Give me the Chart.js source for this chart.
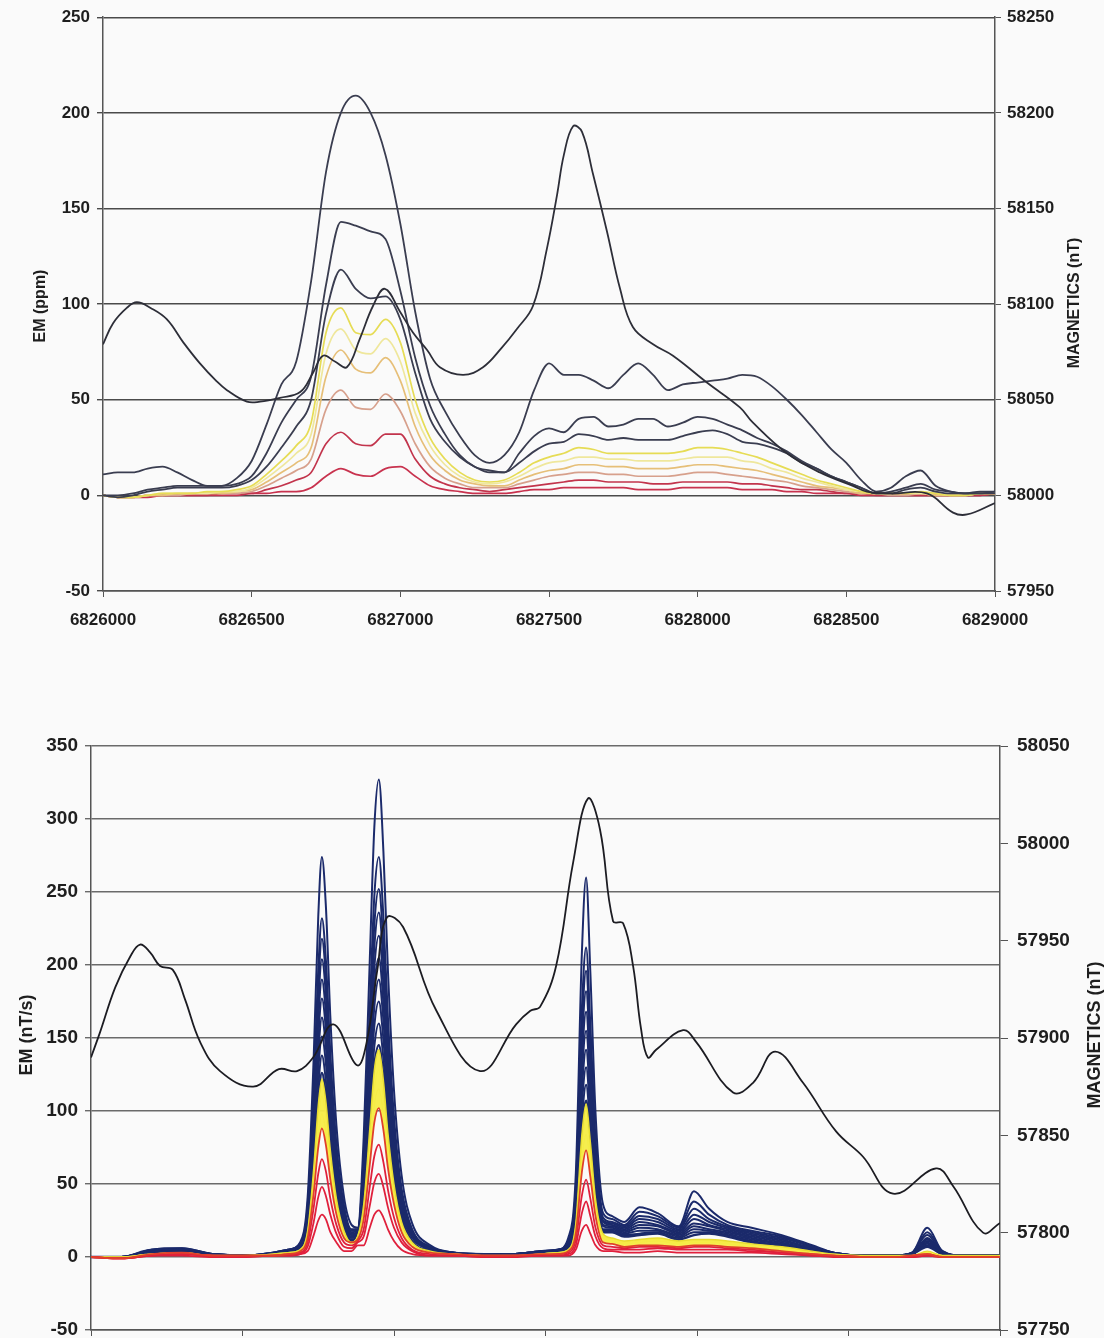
<!DOCTYPE html>
<html>
<head>
<meta charset="utf-8">
<script src="https://cdn.jsdelivr.net/npm/chart.js@4.4.1/dist/chart.umd.min.js"></script>
<style>
  html, body { margin: 0; padding: 0; background: #fafafa; }
  #page { position: relative; width: 1104px; height: 1338px; overflow: hidden; background: #fafafa; }
  #topChart { position: absolute; left: 0; top: 0; }
  #botChart { position: absolute; left: 0; top: 700px; }
</style>
</head>
<body>
<div id="page">
  <canvas id="topChart" width="1104" height="650"></canvas>
  <canvas id="botChart" width="1104" height="700"></canvas>
</div>
<script>
// ---------- top profile: EM (ppm), one reading every 50 m ----------
const topX = [6826000,6826050,6826100,6826150,6826200,6826250,6826300,6826350,6826400,6826450,
  6826500,6826550,6826600,6826650,6826700,6826750,6826800,6826850,6826900,6826950,
  6827000,6827050,6827100,6827150,6827200,6827250,6827300,6827350,6827400,6827450,
  6827500,6827550,6827600,6827650,6827700,6827750,6827800,6827850,6827900,6827950,
  6828000,6828050,6828100,6828150,6828200,6828250,6828300,6828350,6828400,6828450,
  6828500,6828550,6828600,6828650,6828700,6828750,6828800,6828850,6828900,6828950,
  6829000];
const ch1 = [11,12,12,14,15,12,8,5,5,9, 18,37,58,70,112,169,200,209,200,178,
  142,96,61,44,31,21,17,21,33,55, 69,63,63,60,56,63,69,63,55,58,
  59,60,61,63,62,57,50,42,33,24, 17,8,2,4,10,13,5,2,1,1, 1];
const ch2 = [0,0,1,3,4,5,5,5,5,6, 10,22,38,50,62,110,143,141,138,134,
  107,72,47,32,21,15,13,12,22,31, 35,33,40,41,36,37,40,40,36,38,
  41,40,37,34,30,27,23,18,14,10, 7,4,1,2,4,6,3,2,1,2, 2];
const ch3 = [0,-1,0,2,3,4,4,4,4,5, 8,15,25,36,50,95,118,108,103,104,
  92,64,40,28,20,15,12,12,17,23, 27,28,32,31,29,30,29,29,29,31,
  33,34,32,28,27,25,22,17,14,10, 7,4,1,1,3,4,2,1,1,1, 2];
const ch4 = [0,-1,-1,0,1,1,1,2,2,3, 5,11,18,26,38,85,98,85,84,92,
  80,50,30,19,12,8,7,8,12,17, 20,22,25,24,22,22,22,22,22,23,
  25,25,24,22,20,17,14,11,8,6, 4,2,1,1,1,2,1,0,0,1, 1];
const ch5 = [0,-1,-1,0,1,1,1,1,2,2, 4,9,15,22,32,74,87,76,74,82,
  70,43,26,16,10,7,6,7,10,14, 17,18,20,20,19,19,18,18,18,19,
  20,20,20,18,17,14,12,9,7,5, 3,2,1,1,1,1,1,0,0,1, 1];
const ch6 = [0,-1,-1,0,0,1,1,1,1,2, 3,7,12,17,25,62,76,66,64,72,
  60,36,21,13,8,6,5,5,8,11, 13,14,16,16,15,15,14,14,14,15,
  16,16,15,14,13,11,9,7,5,4, 3,1,1,1,1,1,0,0,0,1, 1];
const ch7 = [0,-1,-1,0,0,0,1,1,1,1, 2,5,9,13,19,45,55,46,45,53,
  44,27,15,9,6,4,4,4,6,8, 10,11,12,12,11,11,10,10,10,11,
  12,12,11,10,9,8,7,5,4,3, 2,1,1,0,0,1,0,0,0,1, 1];
const ch8 = [0,-1,-1,0,0,0,0,0,1,1, 1,3,5,8,12,27,33,27,26,32,
  32,19,10,6,4,3,2,3,4,5, 6,7,8,8,7,7,7,6,6,7,
  7,7,7,6,6,5,4,3,3,2, 1,1,0,0,0,0,0,0,0,0, 1];
const ch9 = [0,-1,-1,-1,0,0,0,0,0,0, 1,1,2,2,4,10,14,11,10,14,
  15,10,5,3,2,1,1,1,2,3, 3,4,4,4,4,4,3,3,3,4,
  4,4,4,3,3,3,2,2,1,1, 1,0,0,0,0,0,0,0,0,0, 1];
// top magnetics (nT)
const magTopX = [6826000,6826034,6826080,6826114,6826160,6826215,6826270,6826326,6826380,6826417,
  6826484,6826528,6826595,6826663,6826706,6826740,6826780,6826820,6826864,6826908,
  6826948,6826999,6827043,6827090,6827133,6827211,6827278,6827340,6827392,6827446,
  6827493,6827527,6827550,6827581,6827611,6827648,6827695,6827739,6827782,6827850,
  6827917,6828031,6828142,6828186,6828300,6828411,6828522,6828569,6828650,6828771,
  6828859,6828906,6829000];
const magTopY = [58079,58090,58098,58101,58098,58092,58080,58069,58060,58055,
  58049,58049,58051,58054,58064,58073,58070,58067,58082,58099,
  58108,58096,58085,58076,58067,58063,58067,58077,58087,58099,
  58129,58157,58178,58193,58190,58168,58138,58108,58088,58079,
  58073,58059,58046,58038,58022,58012,58005,58002,58001,58001,
  57991,57990,57996];

// ---------- bottom profile: EM (nT/s), denser readings on the peaks ----------
const botX = [6826000,6826100,6826200,6826300,6826400,6826500,6826600,6826650,6826690,
  6826715,6826735,6826750,6826762,6826775,6826790,6826810,6826835,6826860,
  6826880,
  6826900,6826920,6826935,6826950,6826965,6826980,6827000,6827025,6827060,6827120,
  6827200,6827300,6827400,6827480,6827540,
  6827575,6827600,6827620,6827634,6827648,6827665,6827690,
  6827720,6827760,6827810,6827870,6827940,6827990,6828040,6828100,6828180,6828280,6828380,6828450,6828550,6828650,6828710,6828760,6828810,6828880,6829000];
const b1 = [0,0,5,6,2,1,3,5,10, 41,137,233,274,241,164,90,41,22, 20,
  82,203,294,327,278,196,114,56,23,8, 3,2,2,4,5, 13,57,208,260,195,99,36,
  28,24,34,30,21,45,33,24,20,15,8,3,1,1,3,20,4,1,1];
const b2 = [0,0,5,6,2,1,3,5,9, 35,116,197,232,204,139,77,35,19, 19,
  69,170,247,274,233,164,96,47,19,7, 3,2,2,4,5, 11,47,170,212,159,81,30,
  26,22,31,28,20,38,29,22,18,14,7,3,1,1,3,17,4,1,1];
const b3 = [0,0,5,5,2,1,3,5,9, 33,109,185,218,192,131,72,33,18, 18,
  63,156,227,252,214,151,88,43,18,6, 3,2,2,4,5, 10,43,157,196,147,74,27,
  24,21,28,26,19,33,26,21,17,13,7,3,1,1,3,15,3,1,1];
const b4 = [0,0,4,5,2,1,2,4,8, 31,102,173,204,180,122,67,31,17, 18,
  59,146,212,236,201,142,83,40,17,6, 3,2,2,3,4, 9,40,146,182,137,69,25,
  23,20,26,24,18,29,24,20,16,12,6,3,1,1,2,13,3,1,1];
const b5 = [0,0,4,5,2,1,2,4,8, 29,95,162,190,167,114,63,29,16, 17,
  55,136,198,220,187,132,77,37,16,6, 2,1,2,3,4, 8,37,134,168,126,64,24,
  22,19,24,22,17,26,22,19,15,11,6,3,1,1,2,12,3,1,1];
const b6 = [0,0,4,4,2,1,2,4,7, 27,89,150,177,156,106,58,27,15, 17,
  51,127,185,205,174,123,72,35,15,5, 2,1,2,3,4, 8,34,124,155,116,59,22,
  21,18,22,21,16,23,21,18,14,10,5,2,1,1,2,11,3,1,1];
const b7 = [0,0,3,4,2,1,2,3,7, 25,82,139,164,144,98,54,25,14, 16,
  48,118,171,190,162,114,67,32,14,5, 2,1,2,3,4, 7,31,114,142,107,54,21,
  20,17,20,19,15,21,19,17,13,9,5,2,1,1,2,10,2,1,1];
const b8 = [0,0,3,4,1,1,2,3,6, 23,76,128,151,133,91,50,23,13, 16,
  44,109,158,175,149,105,61,30,13,5, 2,1,2,3,4, 7,29,104,130,98,49,19,
  19,16,18,18,14,19,18,16,12,9,5,2,1,1,2,9,2,1,1];
const b9 = [0,0,3,3,1,1,2,3,6, 21,69,117,138,121,83,46,21,12, 15,
  40,99,144,160,136,96,56,27,11,4, 2,1,2,3,4, 6,26,94,118,89,45,18,
  18,15,16,17,13,17,17,15,11,8,4,2,1,1,2,8,2,1,1];
const b10 = [0,0,3,3,1,1,2,3,6, 19,63,107,126,111,76,42,19,11, 15,
  36,90,131,145,123,87,51,25,10,4, 2,1,2,3,4, 6,24,86,107,80,41,17,
  17,14,15,16,12,15,16,14,10,8,4,2,1,1,2,7,2,1,1];
const y1 = [0,0,2,3,1,1,2,3,5, 18,61,104,122,107,73,40,18,10, 14,
  36,88,128,142,121,85,50,24,10,4, 2,1,1,2,3, 5,23,84,105,79,40,16,
  13,11,12,13,11,12,12,11,9,7,4,2,1,1,1,4,1,1,1];
const y2 = [0,0,2,3,1,1,2,3,5, 17,55,94,110,97,66,36,17,9, 14,
  32,79,115,128,109,77,45,22,9,3, 2,1,1,2,3, 5,21,76,95,71,36,15,
  12,10,11,12,10,11,11,10,8,6,3,2,1,1,1,3,1,1,1];
const y3 = [0,0,2,2,1,1,1,2,4, 15,49,83,98,86,59,32,15,10, 14,
  29,71,104,115,98,69,40,20,8,3, 2,1,1,2,3, 4,18,67,84,63,32,13,
  11,9,10,11,9,10,10,9,7,5,3,1,1,1,1,3,1,1,1];
const r1 = [0,-1,2,3,1,1,1,2,4, 13,44,75,88,77,53,29,13,10, 12,
  26,63,92,102,87,61,36,17,7,3, 2,1,1,2,2, 4,16,58,73,55,28,10,
  9,7,8,8,7,8,8,7,6,4,2,1,0,0,1,2,0,0,0];
const r2 = [0,-1,1,2,1,1,1,2,3, 10,34,57,67,59,40,22,10,8, 11,
  19,48,69,77,65,46,27,13,5,2, 1,1,1,1,2, 3,12,42,53,40,20,8,
  7,6,7,7,6,7,7,6,5,3,2,1,0,0,1,2,0,0,0];
const r3 = [0,-1,1,2,1,0,1,1,2, 7,24,41,48,42,29,16,7,6, 10,
  14,35,51,57,48,34,20,10,4,1, 1,0,1,1,1, 2,8,30,38,28,14,6,
  5,5,5,6,5,5,5,5,4,3,1,1,0,0,0,1,0,0,0];
const r4 = [0,-1,1,1,0,0,1,1,2, 4,15,25,29,26,17,10,4,4, 8,
  8,20,29,32,27,19,11,5,2,1, 1,0,0,1,1, 1,5,18,22,16,8,4,
  4,3,3,4,3,3,3,3,3,2,1,0,0,0,0,1,0,0,0];
// bottom magnetics (nT)
const magBotX = [6826000,6826030,6826080,6826130,6826162,6826195,6826228,6826270,6826310,6826360,
  6826426,6826535,6826620,6826680,6826733,6826800,6826878,6826910,6826945,6826977,
  6827030,6827140,6827284,6827403,6827450,6827482,6827535,6827591,6827640,6827680,
  6827723,6827756,6827789,6827815,6827838,6827865,6827954,6827997,6828119,6828185,
  6828258,6828350,6828459,6828548,6828647,6828789,6828845,6828944,6829000];
const magBotY = [57890,57903,57926,57942,57948,57944,57937,57935,57920,57898,
  57883,57875,57884,57883,57890,57907,57886,57898,57935,57962,
  57957,57914,57883,57907,57914,57916,57937,57990,58023,58007,
  57960,57959,57937,57905,57890,57894,57904,57898,57872,57877,
  57893,57877,57852,57839,57820,57833,57824,57800,57805];

const TXT = '#1e1e1e';
const pts = (xs, ys) => ys.map((y, i) => ({ x: xs[i], y: y }));
function line(xs, ys, color, width, extra) {
  return Object.assign({
    data: pts(xs, ys), borderColor: color, borderWidth: width,
    pointRadius: 0, fill: false, cubicInterpolationMode: 'monotone'
  }, extra || {});
}
const asText = v => String(v);

// rotated axis titles, both read bottom to top
function titles(font, items) {
  return {
    id: 'axisTitles',
    afterDraw(chart) {
      const ctx = chart.ctx;
      ctx.save();
      ctx.fillStyle = TXT;
      ctx.font = font;
      ctx.textAlign = 'center';
      ctx.textBaseline = 'middle';
      items.forEach(t => {
        ctx.save();
        ctx.translate(t.x, t.y);
        ctx.rotate(-Math.PI / 2);
        ctx.fillText(t.text, 0, 0);
        ctx.restore();
      });
      ctx.restore();
    }
  };
}

function scales(o) {
  const font = { family: "'Liberation Sans', Arial, sans-serif", weight: 'bold', size: o.fontSize };
  return {
    x: {
      type: 'linear', min: 6826000, max: 6829000,
      ticks: { stepSize: 500, callback: asText, color: TXT, font: font, padding: 13, maxRotation: 0, autoSkip: false },
      grid: { drawOnChartArea: false, tickLength: 6, color: '#555' },
      border: { color: '#555', width: 1.5 },
      afterFit: s => { s.height = o.xHeight; }
    },
    y: {
      position: 'left', min: o.yMin, max: o.yMax,
      ticks: { stepSize: 50, callback: asText, color: TXT, font: font, padding: 7 },
      grid: { color: o.gridColor, lineWidth: 1.4, tickLength: 6 },
      border: { color: '#555', width: 1.5 },
      afterFit: s => { s.width = o.leftW; }
    },
    y2: {
      position: 'right', min: o.rMin, max: o.rMax,
      ticks: { stepSize: 50, callback: asText, color: TXT, font: font, padding: o.rPad },
      grid: { drawOnChartArea: false, tickLength: o.rTick, color: '#555' },
      border: { color: '#555', width: 1.5 },
      afterFit: s => { s.width = o.rightW; }
    }
  };
}

const common = {
  responsive: false, animation: false, events: [],
  plugins: { legend: { display: false }, tooltip: { enabled: false } }
};

// ---------- top chart ----------
const dark = '#3a3d50';
new Chart(document.getElementById('topChart'), {
  type: 'line',
  data: {
    datasets: [
      line(magTopX, magTopY, '#2d2e38', 1.8, { yAxisID: 'y2', tension: 0.4, cubicInterpolationMode: 'default' }),
      line(topX, ch1, dark, 1.8),
      line(topX, ch2, dark, 1.8),
      line(topX, ch3, dark, 1.8),
      line(topX, ch4, '#e6dc55', 1.7),
      line(topX, ch5, '#efe79c', 1.7),
      line(topX, ch6, '#e6bf78', 1.7),
      line(topX, ch7, '#d7a08c', 1.7),
      line(topX, ch8, '#c2344c', 1.7),
      line(topX, ch9, '#c8324e', 1.7)
    ]
  },
  options: Object.assign({}, common, {
    layout: { padding: { top: 17, left: 0, right: 0, bottom: 0 } },
    scales: scales({ fontSize: 17, xHeight: 59, yMin: -50, yMax: 250, leftW: 103,
      rMin: 57950, rMax: 58250, rightW: 109, rPad: 6, rTick: 6, gridColor: '#4a4a4a' })
  }),
  plugins: [titles("bold 16px 'Liberation Sans', Arial, sans-serif", [
    { text: 'EM (ppm)', x: 41, y: 306 },
    { text: 'MAGNETICS (nT)', x: 1075, y: 303 }
  ])]
});

// ---------- bottom chart ----------
const navy = '#1b2a6b';
const red = '#e0203c';
new Chart(document.getElementById('botChart'), {
  type: 'line',
  data: {
    datasets: [
      line(magBotX, magBotY, '#1c1c22', 1.8, { yAxisID: 'y2', tension: 0.4, cubicInterpolationMode: 'default' }),
      line(botX, r1, '#e0402a', 1.8),
      line(botX, r2, red, 1.8),
      line(botX, r3, red, 1.8),
      line(botX, r4, red, 1.8),
      line(botX, y1, '#e8dc30', 1.4, { fill: 1, backgroundColor: 'rgba(246,236,70,0.95)' }),
      line(botX, y2, '#efe446', 1.2),
      line(botX, y3, '#efe446', 1.2),
      line(botX, b10, navy, 2.4),
      line(botX, b9, navy, 2.0),
      line(botX, b8, navy, 2.0),
      line(botX, b7, navy, 2.0),
      line(botX, b6, navy, 2.0),
      line(botX, b5, navy, 2.0),
      line(botX, b4, navy, 2.0),
      line(botX, b3, navy, 2.0),
      line(botX, b2, navy, 2.0),
      line(botX, b1, navy, 2.0)
    ]
  },
  options: Object.assign({}, common, {
    layout: { padding: { top: 46, left: 0, right: 0, bottom: 0 } },
    scales: scales({ fontSize: 19, xHeight: 70, yMin: -50, yMax: 350, leftW: 91,
      rMin: 57750, rMax: 58050, rightW: 104, rPad: 9, rTick: 8, gridColor: '#6a6a6a' })
  }),
  plugins: [titles("bold 18px 'Liberation Sans', Arial, sans-serif", [
    { text: 'EM (nT/s)', x: 27, y: 335 },
    { text: 'MAGNETICS (nT)', x: 1095, y: 335 }
  ])]
});
</script>
</body>
</html>
